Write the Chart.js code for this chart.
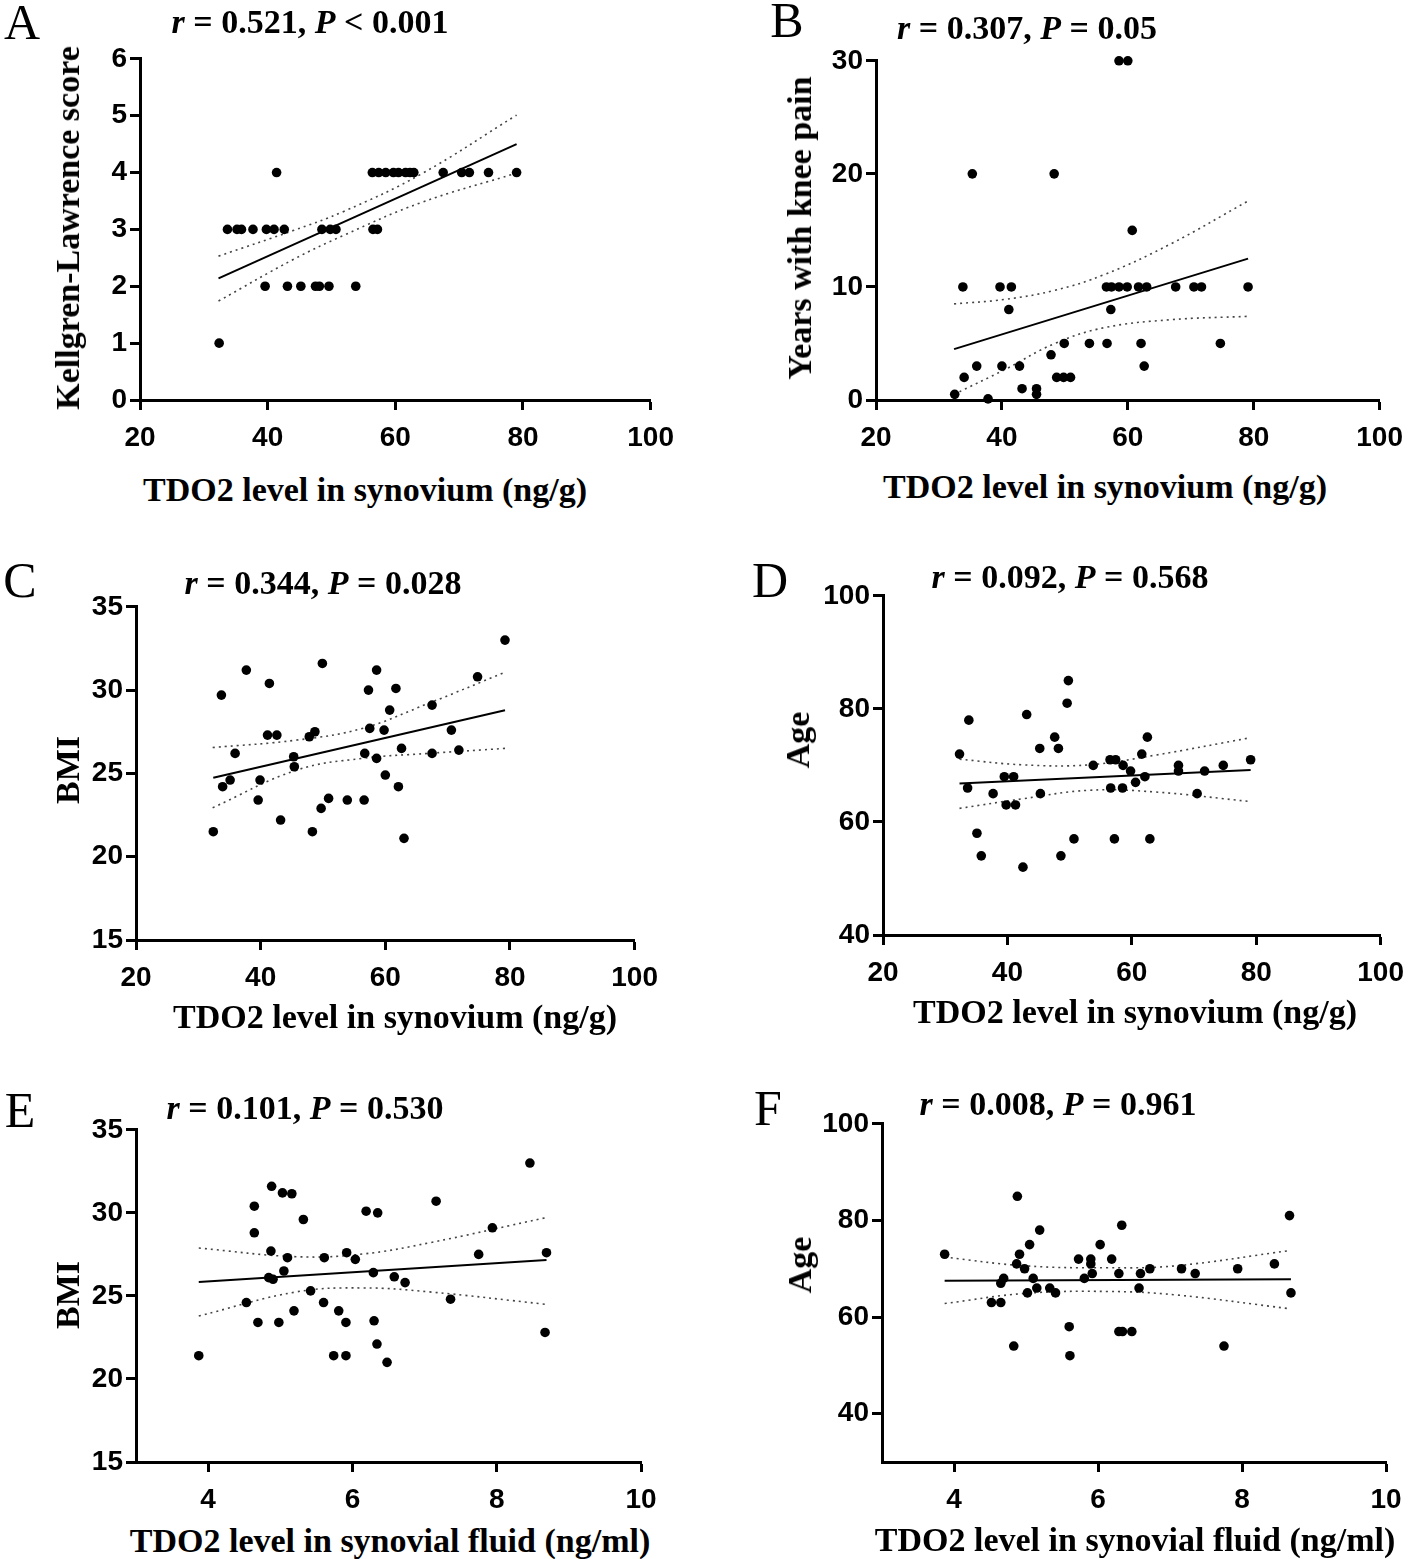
<!DOCTYPE html>
<html>
<head>
<meta charset="utf-8">
<script src="https://cdn.jsdelivr.net/npm/chart.js@4.4.1/dist/chart.umd.min.js"></script>
<style>
    body {
        margin: 0;
        width: 1416px;
        height: 1559px;
        background: #fff;
        position: relative;
        overflow: hidden;
        font-family: "Liberation Serif", "Times New Roman", serif;
        color: #000;
    }
    canvas { position: absolute; }
    .letter, .stat, .xt, .yt {
        position: absolute;
        white-space: nowrap;
        line-height: 1;
        transform: translate(-50%, -50%);
    }
    .letter { font-size: 50px; }
    .stat { font-size: 34px; font-weight: bold; }
    .xt { font-size: 34px; font-weight: bold; }
    .yt { font-size: 34px; font-weight: bold; transform: translate(-50%, -50%) rotate(-90deg); }
</style>
</head>
<body>
<script>
// tick labels
const xTicksSyn = [20, 40, 60, 80, 100];
const xTicksFluid = [4, 6, 8, 10];
const yTicksKL = [0, 1, 2, 3, 4, 5, 6];
const yTicksYears = [0, 10, 20, 30];
const yTicksBmi = [15, 20, 25, 30, 35];
const yTicksAge = [40, 60, 80, 100];

// A: Kellgren-Lawrence score vs synovium TDO2
const aX = [32.4, 33.7, 35.2, 35.9, 37.7, 39.8, 41.0, 42.6, 48.5, 49.8, 50.7, 56.5, 57.2,
    41.4, 56.4, 57.4, 58.5, 59.7, 60.5, 61.6, 62.3, 62.9, 67.5, 70.4, 71.6, 74.6, 79.0,
    39.6, 43.1, 45.2, 47.5, 48.1, 49.6, 53.8];
const aY = [1, 3, 3, 3, 3, 3, 3, 3, 3, 3, 3, 3, 3,
    4, 4, 4, 4, 4, 4, 4, 4, 4, 4, 4, 4, 4, 4,
    2, 2, 2, 2, 2, 2, 2];
const aFitX = [32.3, 79.0];
const aFitY = [2.14, 4.50];
const aCiX = [32.3, 44, 52, 64, 79];
const aCiHi = [2.53, 2.98, 3.32, 3.97, 5.01];
const aCiLo = [1.74, 2.47, 2.90, 3.47, 3.99];

// B: years with knee pain
const bX = [58.6, 60.0, 35.3, 48.3, 60.7,
    33.8, 39.7, 41.5, 56.6, 57.4, 58.6, 59.9, 61.7, 63.0, 67.6, 70.5, 71.7, 79.1,
    41.1, 57.3, 49.9, 53.9, 56.7, 62.1, 74.7, 47.8,
    36.0, 40.0, 42.8, 62.6, 34.0, 48.7, 49.8, 50.9,
    43.2, 45.5, 45.5, 32.5, 37.8];
const bY = [30, 30, 20, 20, 15,
    10, 10, 10, 10, 10, 10, 10, 10, 10, 10, 10, 10, 10,
    8, 8, 5, 5, 5, 5, 5, 4,
    3, 3, 3, 3, 2, 2, 2, 2,
    1, 1, 0.5, 0.5, 0.1];
const bFitX = [32.4, 79.1];
const bFitY = [4.5, 12.5];
const bCiX = [32.4, 40.5, 48.4, 56.3, 66.8, 79.1];
const bCiHi = [8.5, 8.9, 9.7, 11.1, 13.8, 17.6];
const bCiLo = [0.5, 2.7, 5.0, 6.4, 7.1, 7.4];

// C: BMI vs synovium TDO2
const cX = [79.2, 49.9, 37.7, 58.6, 41.4, 74.8, 33.7, 57.3, 61.7, 67.5,
    60.7, 41.1, 42.6, 47.8, 48.7, 57.5, 59.8, 70.6, 35.9, 45.3,
    45.4, 56.7, 58.6, 62.6, 67.5, 71.8, 33.9, 35.1, 39.9, 60.0,
    62.1, 39.6, 49.7, 50.9, 53.9, 56.6, 43.2, 32.4, 48.3, 63.0];
const cY = [33.0, 31.6, 31.2, 31.2, 30.4, 30.8, 29.7, 30.0, 30.1, 29.1,
    28.8, 27.3, 27.3, 27.2, 27.5, 27.7, 27.6, 27.6, 26.2, 26.0,
    25.4, 26.2, 25.9, 26.5, 26.2, 26.4, 24.2, 24.6, 24.6, 24.9,
    24.2, 23.4, 22.9, 23.5, 23.4, 23.4, 22.2, 21.5, 21.5, 21.1];
const cFitX = [32.4, 79.2];
const cFitY = [24.74, 28.79];
const cCiX = [32.3, 45.8, 56.3, 66.9, 79.2];
const cCiHi = [26.55, 27.0, 27.7, 29.2, 31.07];
const cCiLo = [22.94, 25.2, 25.9, 26.2, 26.5];

// D: age vs synovium TDO2
const dX = [49.8, 49.6, 33.8, 43.1, 47.6, 62.5, 45.2, 48.2, 32.3, 61.6,
    53.8, 56.5, 57.4, 58.6, 59.8, 67.5, 67.5, 71.7, 74.7, 79.1,
    39.5, 41.0, 62.1, 60.6, 33.6, 56.6, 58.5, 37.7, 45.3, 70.5,
    39.8, 41.3, 35.1, 50.7, 57.2, 62.9, 35.8, 48.6, 42.5];
const dY = [85, 81, 78, 79, 75, 75, 73, 73, 72, 72,
    70, 71, 71, 70, 69, 70, 69, 69, 70, 71,
    68, 68, 68, 67, 66, 66, 66, 65, 65, 65,
    63, 63, 58, 57, 57, 57, 54, 54, 52];
const dFitX = [32.3, 79.1];
const dFitY = [66.8, 69.2];
const dCiX = [32.3, 42.5, 53.1, 63.7, 79.1];
const dCiHi = [71.1, 70.1, 70.1, 71.8, 74.9];
const dCiLo = [62.4, 64.1, 65.6, 65.3, 63.6];

// E: BMI vs synovial fluid TDO2
const eX = [8.46, 4.88, 5.03, 5.16, 4.64, 7.16, 6.19, 6.35, 5.32, 4.64,
    7.94, 4.87, 5.10, 5.61, 5.92, 6.04, 7.75, 8.69, 5.05, 4.84,
    4.90, 6.29, 6.58, 6.73, 5.42, 4.53, 5.60, 7.36, 5.19, 5.81,
    4.69, 4.98, 5.91, 6.30, 8.67, 6.34, 3.87, 5.74, 5.91, 6.48];
const eY = [33.0, 31.6, 31.2, 31.15, 30.4, 30.7, 30.1, 30.0, 29.6, 28.8,
    29.1, 27.7, 27.3, 27.3, 27.6, 27.2, 27.5, 27.6, 26.5, 26.1,
    26.0, 26.4, 26.15, 25.8, 25.3, 24.6, 24.6, 24.8, 24.1, 24.1,
    23.4, 23.4, 23.4, 23.5, 22.8, 22.1, 21.4, 21.4, 21.4, 21.0];
const eFitX = [3.87, 8.69];
const eFitY = [25.83, 27.16];
const eCiX = [3.87, 5.22, 6.14, 7.07, 8.67];
const eCiHi = [27.88, 27.36, 27.52, 28.2, 29.7];
const eCiLo = [23.79, 25.24, 25.48, 25.24, 24.5];

// F: age vs synovial fluid TDO2
const fX = [4.88, 8.66, 6.33, 5.19, 5.05, 6.03, 3.87, 4.91, 5.73, 5.90,
    6.19, 4.87, 5.90, 8.45, 4.98, 6.72, 7.16, 7.94, 5.92, 6.29,
    6.59, 7.35, 4.69, 5.10, 5.81, 4.65, 5.15, 5.33, 6.57, 5.02,
    5.41, 8.68, 4.52, 4.65, 5.60, 6.29, 6.34, 6.47, 4.83, 7.75, 5.61];
const fY = [85, 81, 79, 78, 75, 75, 73, 73, 72, 72,
    72, 71, 71, 71, 70, 70, 70, 70, 69, 69,
    69, 69, 68, 68, 68, 67, 66, 66, 66, 65,
    65, 65, 63, 63, 58, 57, 57, 57, 54, 54, 52];
const fFitX = [3.87, 8.68];
const fFitY = [67.5, 67.8];
const fCiX = [3.87, 4.99, 6.14, 7.07, 8.68];
const fCiHi = [72.4, 70.6, 70.2, 70.6, 73.8];
const fCiLo = [62.8, 64.9, 65.3, 64.6, 61.7];

const tickFont = "'Liberation Sans Narrow', 'Arial Narrow', 'Liberation Sans', Arial, sans-serif";
const synTitle = "TDO2 level in synovium (ng/g)";
const fluidTitle = "TDO2 level in synovial fluid (ng/ml)";

const panels = [
    { letter: "A", stat: "<i>r</i> = 0.521, <i>P</i> &lt; 0.001", yTitle: "Kellgren-Lawrence score", xTitle: synTitle,
      L: 140, R: 657, T: 57, B: 400, letterPos: [22, 22], statPos: [310, 22], xtPos: [365, 490], ytPos: [68, 228],
      xMin: 20, xMax: 100, xTicks: xTicksSyn, yMin: 0, yMax: 6, yTicks: yTicksKL,
      px: aX, py: aY, fitX: aFitX, fitY: aFitY, ciX: aCiX, ciHi: aCiHi, ciLo: aCiLo },
    { letter: "B", stat: "<i>r</i> = 0.307, <i>P</i> = 0.05", yTitle: "Years with knee pain", xTitle: synTitle,
      L: 876, R: 1386, T: 59, B: 400, letterPos: [787, 20], statPos: [1027, 28], xtPos: [1105, 487], ytPos: [800, 228],
      xMin: 20, xMax: 100, xTicks: xTicksSyn, yMin: 0, yMax: 30, yTicks: yTicksYears,
      px: bX, py: bY, fitX: bFitX, fitY: bFitY, ciX: bCiX, ciHi: bCiHi, ciLo: bCiLo },
    { letter: "C", stat: "<i>r</i> = 0.344, <i>P</i> = 0.028", yTitle: "BMI", xTitle: synTitle,
      L: 136, R: 641, T: 605, B: 940, letterPos: [20, 580], statPos: [323, 583], xtPos: [395, 1017], ytPos: [68, 770],
      xMin: 20, xMax: 100, xTicks: xTicksSyn, yMin: 15, yMax: 35, yTicks: yTicksBmi,
      px: cX, py: cY, fitX: cFitX, fitY: cFitY, ciX: cCiX, ciHi: cCiHi, ciLo: cCiLo },
    { letter: "D", stat: "<i>r</i> = 0.092, <i>P</i> = 0.568", yTitle: "Age", xTitle: synTitle,
      L: 883, R: 1387, T: 594, B: 935, letterPos: [770, 580], statPos: [1070, 577], xtPos: [1135, 1012], ytPos: [798, 740],
      xMin: 20, xMax: 100, xTicks: xTicksSyn, yMin: 40, yMax: 100, yTicks: yTicksAge,
      px: dX, py: dY, fitX: dFitX, fitY: dFitY, ciX: dCiX, ciHi: dCiHi, ciLo: dCiLo },
    { letter: "E", stat: "<i>r</i> = 0.101, <i>P</i> = 0.530", yTitle: "BMI", xTitle: fluidTitle,
      L: 136, R: 641, T: 1128, B: 1462, letterPos: [20, 1110], statPos: [305, 1108], xtPos: [390, 1541], ytPos: [68, 1295],
      xMin: 3, xMax: 10, xTicks: xTicksFluid, yMin: 15, yMax: 35, yTicks: yTicksBmi,
      px: eX, py: eY, fitX: eFitX, fitY: eFitY, ciX: eCiX, ciHi: eCiHi, ciLo: eCiLo },
    { letter: "F", stat: "<i>r</i> = 0.008, <i>P</i> = 0.961", yTitle: "Age", xTitle: fluidTitle,
      L: 882, R: 1386, T: 1122, B: 1462, letterPos: [768, 1108], statPos: [1058, 1104], xtPos: [1135, 1540], ytPos: [800, 1265],
      xMin: 3, xMax: 10, xTicks: xTicksFluid, yMin: 30, yMax: 100, yTicks: yTicksAge,
      px: fX, py: fY, fitX: fFitX, fitY: fFitY, ciX: fCiX, ciHi: fCiHi, ciLo: fCiLo }
];

function addText(cls, html, pos) {
    const el = document.createElement("div");
    el.className = cls;
    el.innerHTML = html;
    el.style.left = pos[0] + "px";
    el.style.top = pos[1] + "px";
    document.body.appendChild(el);
}

function toPoints(xs, ys) {
    return xs.map((x, i) => ({ x: x, y: ys[i] }));
}

function fixedTicks(values) {
    return function (scale) {
        scale.ticks = values.map(v => ({ value: v }));
    };
}

function axisOptions(min, max, values, isX, size) {
    return {
        type: "linear",
        min: min,
        max: max,
        afterBuildTicks: fixedTicks(values),
        afterFit: function (scale) {
            if (isX) scale.height = size; else scale.width = size;
        },
        border: { display: true, color: "#000", width: 3 },
        grid: {
            display: true,
            drawOnChartArea: false,
            drawTicks: true,
            tickLength: 10,
            tickWidth: 3,
            tickColor: "#000"
        },
        ticks: {
            color: "#000",
            padding: isX ? 11 : 3,
            font: { family: tickFont, size: 28, weight: "bold" }
        }
    };
}

function buildPanel(p) {
    const padL = 80, padT = 18, padR = 28, padB = 60;
    const canvas = document.createElement("canvas");
    canvas.width = p.R - p.L + padL + padR;
    canvas.height = p.B - p.T + padT + padB;
    canvas.style.left = (p.L - padL) + "px";
    canvas.style.top = (p.T - padT) + "px";
    document.body.appendChild(canvas);

    const dotted = {
        borderColor: "#444",
        borderWidth: 1.6,
        borderDash: [2, 4],
        pointRadius: 0,
        showLine: true,
        tension: 0.4,
        clip: false
    };

    new Chart(canvas.getContext("2d"), {
        type: "scatter",
        data: {
            datasets: [
                {
                    data: toPoints(p.px, p.py),
                    backgroundColor: "#000",
                    borderWidth: 0,
                    pointRadius: 4.8,
                    clip: false
                },
                {
                    data: toPoints(p.fitX, p.fitY),
                    showLine: true,
                    borderColor: "#000",
                    borderWidth: 2,
                    pointRadius: 0,
                    clip: false
                },
                Object.assign({ data: toPoints(p.ciX, p.ciHi) }, dotted),
                Object.assign({ data: toPoints(p.ciX, p.ciLo) }, dotted)
            ]
        },
        options: {
            responsive: false,
            animation: false,
            devicePixelRatio: 1,
            layout: { padding: { top: padT, right: padR, left: 0, bottom: 0 } },
            plugins: {
                legend: { display: false },
                tooltip: { enabled: false }
            },
            scales: {
                x: axisOptions(p.xMin, p.xMax, p.xTicks, true, padB),
                y: axisOptions(p.yMin, p.yMax, p.yTicks, false, padL)
            }
        }
    });

    addText("letter", p.letter, p.letterPos);
    addText("stat", p.stat, p.statPos);
    addText("xt", p.xTitle, p.xtPos);
    addText("yt", p.yTitle, p.ytPos);
}

panels.forEach(buildPanel);
</script>
</body>
</html>
